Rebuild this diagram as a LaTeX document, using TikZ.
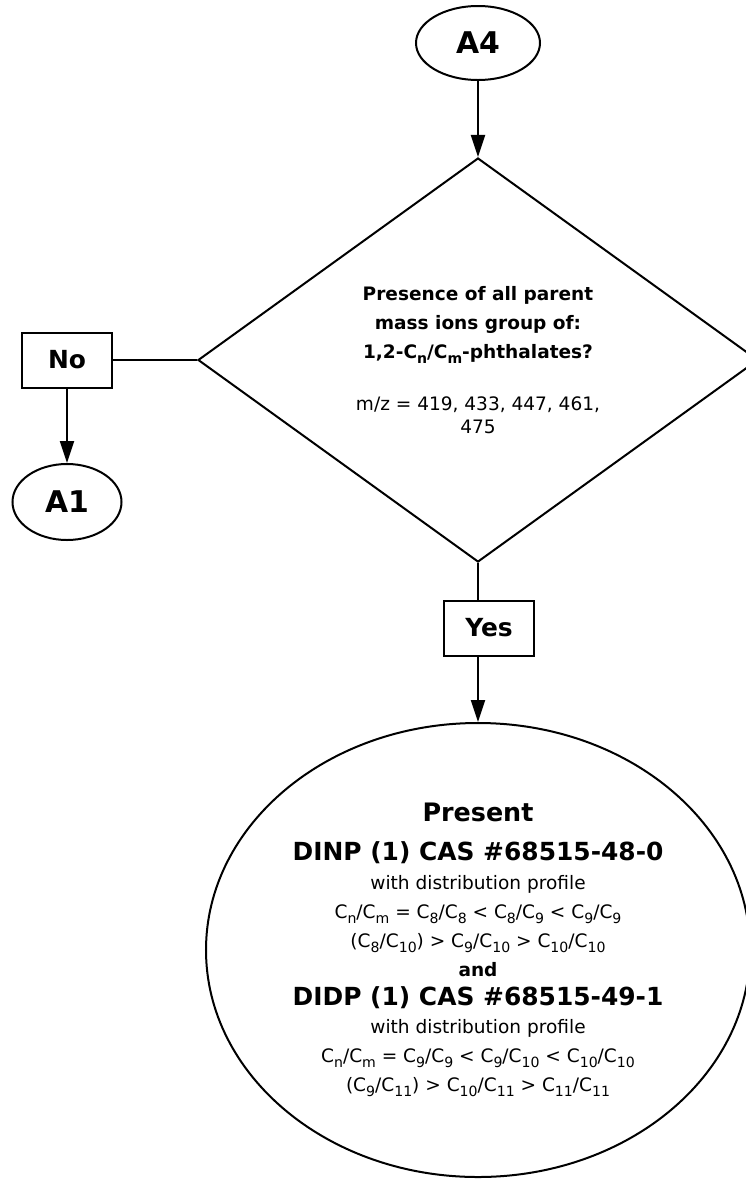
\documentclass[tikz,border=0pt]{standalone}
\usepackage{fontspec}
\setmainfont{DejaVu Sans}
\usetikzlibrary{arrows.meta, positioning, shapes.geometric}
\makeatletter
\newcommand{\Csub}[1]{C\raisebox{-0.27em}{\fontsize{\strip@pt\dimexpr0.76\dimexpr\f@size pt\relax\relax}{1em}\selectfont #1}}
\makeatother

\begin{document}
\begin{tikzpicture}[x=1bp, y=-1bp,
    terminal/.style={ellipse, draw, line width=2bp, inner sep=0pt, font=\fontsize{30}{34}\selectfont\bfseries},
    answer/.style={rectangle, draw, line width=2bp, minimum width=90bp, minimum height=55bp, inner sep=0pt, font=\fontsize{25}{29}\selectfont\bfseries},
    decision/.style={diamond, draw, line width=2bp, aspect=1.386, minimum width=560bp, minimum height=404bp, inner sep=0pt, align=center, font=\fontsize{18.6}{23}\selectfont},
    result/.style={ellipse, draw, line width=2bp, minimum width=544bp, minimum height=454bp, inner sep=0pt, align=center, font=\fontsize{18.6}{29}\selectfont},
    flow/.style={line width=2bp, -{Triangle[length=22bp, width=14bp]}},
    link/.style={line width=2bp}]
  \clip (0,0) rectangle (746,1179);
  \node[terminal, minimum width=124bp, minimum height=74bp] (a4) at (478,43) {A4};
  \node[decision] (dia) at (478,360) {{\bfseries Presence of all parent}\\[6bp]
    {\bfseries mass ions group of:}\\[6bp]
    {\bfseries 1,2-\Csub{n}/\Csub{m}-phthalates?}\\[29bp]
    m/z = 419, 433, 447, 461,\\
    475};
  \node[answer] (no) at (67,360) {No};
  \node[terminal, minimum width=109bp, minimum height=76bp] (a1) at (67,502) {A1};
  \node[answer] (yes) at (489,628) {Yes};
  \node[result] (big) at (478,950) {{\fontsize{25.5}{30}\selectfont\bfseries Present}\\[10bp]
    {\fontsize{25}{30}\selectfont\bfseries DINP (1) CAS \#68515-48-0}\\
    with distribution profile\\
    \Csub{n}/\Csub{m} = \Csub{8}/\Csub{8} < \Csub{8}/\Csub{9} < \Csub{9}/\Csub{9}\\
    (\Csub{8}/\Csub{10}) > \Csub{9}/\Csub{10} > \Csub{10}/\Csub{10}\\
    {\bfseries and}\\
    {\fontsize{25}{30}\selectfont\bfseries DIDP (1) CAS \#68515-49-1}\\
    with distribution profile\\
    \Csub{n}/\Csub{m} = \Csub{9}/\Csub{9} < \Csub{9}/\Csub{10} < \Csub{10}/\Csub{10}\\
    (\Csub{9}/\Csub{11}) > \Csub{10}/\Csub{11} > \Csub{11}/\Csub{11}};
  \draw[flow] (a4) -- (dia);
  \draw[link] (no.east) -- (dia.west);
  \draw[flow] (no) -- (a1);
  \draw[link] (dia.south) -- (dia.south |- yes.north);
  \draw[flow] (dia.south |- yes.south) -- (big.north);
\end{tikzpicture}
\end{document}
